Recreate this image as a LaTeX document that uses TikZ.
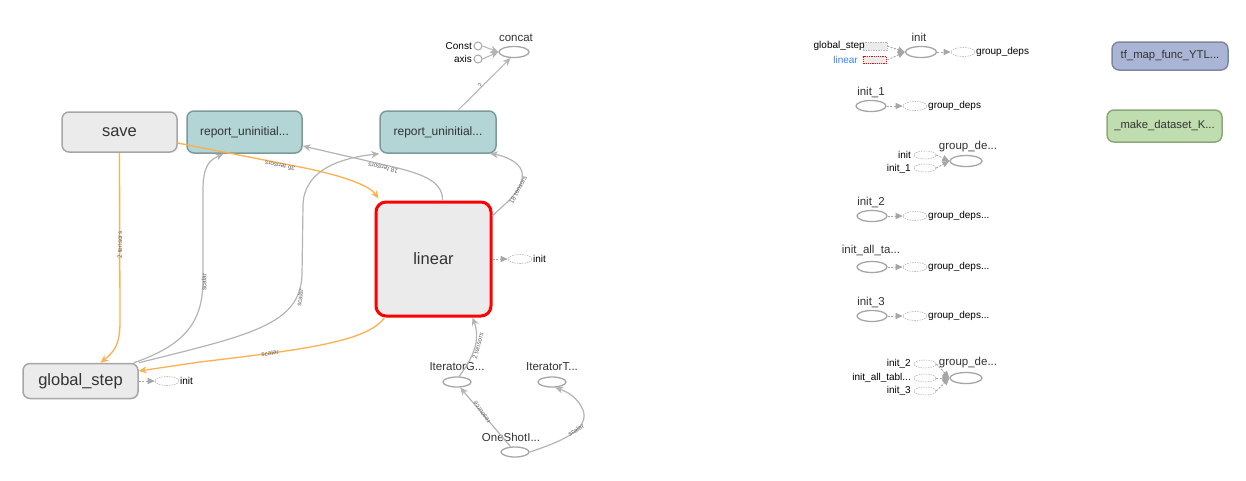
\documentclass[tikz,border=0pt]{standalone}
\usepackage{fontspec}
\setmainfont{Liberation Sans}
\usetikzlibrary{arrows.meta,shapes.geometric}
\definecolor{boxfill}{HTML}{EBEBEB}
\definecolor{boxline}{HTML}{A6A6A6}
\definecolor{tealfill}{HTML}{B3D5D6}
\definecolor{tealline}{HTML}{7D9A9B}
\definecolor{orng}{HTML}{FDB04E}
\definecolor{edgegray}{HTML}{B4B4B4}
\definecolor{blfill}{HTML}{AAB5D6}
\definecolor{blline}{HTML}{7E88A3}
\definecolor{grfill}{HTML}{BFDDAE}
\definecolor{grline}{HTML}{8BA97A}
\definecolor{lblue}{HTML}{3B82F6}
\definecolor{txt}{HTML}{333333}
\tikzset{
  metabox/.style={draw=boxline, fill=boxfill, rounded corners=7pt, line width=1.5pt,
    minimum width=115pt, minimum height=40pt, inner sep=0pt, text=txt,
    font=\fontsize{16.5}{17}\selectfont},
  tealbox/.style={metabox, draw=tealline, fill=tealfill, minimum height=42pt,
    font=\fontsize{12}{12}\selectfont},
  opnode/.style={ellipse, draw=boxline, line width=1.3pt, fill=white,
    minimum width=30pt, minimum height=11pt, inner sep=0pt},
  refop/.style={ellipse, draw=boxline!80, line width=0.6pt, dash pattern=on 1.5pt off 1pt,
    fill=white, minimum width=24pt, minimum height=9pt, inner sep=0pt},
  cnode/.style={circle, draw=boxline, line width=1pt, fill=white, minimum size=8pt, inner sep=0pt},
  lbl/.style={text=txt, inner sep=1pt, font=\fontsize{11.5}{12}\selectfont},
  slbl/.style={text=black, inner sep=1pt, font=\fontsize{10}{10}\selectfont},
  elab/.style={text=black!60, inner sep=0.3pt, font=\fontsize{6.5}{7}\selectfont},
  oedge/.style={draw=orng, line width=1.3pt, -{Stealth[length=8pt,width=7pt]}},
  gedge/.style={draw=edgegray, line width=1.2pt, -{Stealth[length=8pt,width=7pt]}},
  dedge/.style={draw=boxline, line width=0.9pt, dash pattern=on 2pt off 1.5pt,
    -{Triangle[length=7pt,width=6pt]}},
}
\begin{document}
\begin{tikzpicture}[x=1pt,y=-1pt]
\fill[white] (0,0) rectangle (1246,480);
\useasboundingbox (0,0) rectangle (1246,480);

% main nodes
\node[metabox] (save) at (119.5,132) {save};
\node[tealbox] (rep1) at (244.5,132) {report\_uninitial...};
\node[tealbox, minimum width=116pt] (rep2) at (438,132) {report\_uninitial...};
\node[metabox, draw=red, line width=3pt, rounded corners=10pt, minimum height=114pt] (linear) at (433.5,259) {linear};
\node[metabox, minimum height=35pt] (gstep) at (80.5,381) {global\_step};

\node[refop] (ginit) at (167,381) {};
\node[slbl, anchor=west] (ginitl) at (179,381) {init};
\node[refop] (linit) at (520,259) {};
\node[slbl, anchor=west] (linitl) at (532,259) {init};

\node[opnode] (concat) at (514,52) {};
\node[lbl] (concatl) at (516,38) {concat};
\node[cnode] (const) at (478,46) {};
\node[slbl, anchor=east] (constl) at (473,46) {Const};
\node[cnode] (axis) at (478,59) {};
\node[slbl, anchor=east] (axisl) at (473,59) {axis};

\node[opnode, minimum width=28pt, minimum height=10pt] (itg) at (457,382) {};
\node[lbl] (itgl) at (457,367) {IteratorG...};
\node[opnode, minimum width=28pt, minimum height=10pt] (itt) at (552,382) {};
\node[lbl] (ittl) at (552,367) {IteratorT...};
\node[opnode, minimum width=28pt, minimum height=10pt] (osi) at (515,452) {};
\node[lbl] (osil) at (511,437) {OneShotI...};

% main edges
\draw[oedge] (save.south) -- (120,322) .. controls (120,345) and (114,352) .. ([xshift=20pt]gstep.north);
\node[elab, rotate=90] (e1) at (120,245) {2 tensors};

\draw[oedge] ([yshift=-11pt]save.east) -- (300,167) .. controls (345,176) and (370,186) .. ([xshift=4pt,yshift=2pt]linear.north west);
\node[elab, rotate=169] (e2) at (280,166) {36 tensors};

\draw[gedge] ([xshift=-5pt]gstep.north east) .. controls (185,345) and (203,322) .. (203,280) -- (203,190) .. controls (203,165) and (210,160) .. ([xshift=-21pt]rep1.south);
\node[elab, rotate=90] (e3) at (204,282) {scalar};

\draw[gedge] (gstep.north east) .. controls (250,335) and (300,325) .. (302,275) -- (303,205) .. controls (304,170) and (340,158) .. (rep2.south west);
\node[elab, rotate=82] (e4) at (300,298) {scalar};

\draw[oedge] ([xshift=10pt]linear.south west) .. controls (368,342) and (300,350) .. (200,362) -- ([yshift=10pt]gstep.east);
\node[elab, rotate=8] (e5) at (270,353) {scalar};

\draw[gedge] ([xshift=9pt]linear.north) .. controls (443,180) and (420,173) .. (385,165) -- ([yshift=-14pt]rep1.east);
\node[elab, rotate=167] (e6) at (383,168) {18 tensors};

\draw[gedge] ([yshift=43pt]linear.east) .. controls (505,203) and (525,190) .. (522,172) .. controls (519,160) and (500,155) .. ([xshift=52pt]rep2.south);
\node[elab, rotate=62] (e7) at (518,190) {18 tensors};

\draw[gedge, line width=1pt] ([xshift=20pt]rep2.north) -- (concat.240);
\node[elab, rotate=45] (e8) at (480,86) {?};
\draw[gedge, line width=1pt] (const.east) -- (concat.west);
\draw[gedge, line width=1pt] (axis.east) -- (concat.west);

\draw[gedge] (itg.70) .. controls (478,352) and (479,335) .. ([xshift=39pt]linear.south);
\node[elab, rotate=75] (e9) at (478,346) {2 tensors};

\draw[gedge] (osi.130) -- (itg.300);
\node[elab, rotate=124] (e10) at (482,412) {resource};

\draw[gedge] (osi.east) .. controls (560,442) and (590,430) .. (583,410) .. controls (578,398) and (568,392) .. (itt.300);
\node[elab, rotate=32] (e11) at (576,430) {scalar};

\draw[dedge] (gstep.east) -- (ginit.west);
\draw[dedge] (linear.east) -- (linit.west);

% right side
\node[opnode, minimum width=31pt] (init) at (921,52) {};
\node[lbl] (initl) at (919,37) {init};
\node[rectangle, draw=boxline!80, fill=boxfill, line width=0.6pt, dash pattern=on 1.5pt off 1pt, minimum width=24pt, minimum height=8pt, inner sep=0pt] (gsref) at (875,46) {};
\node[slbl, anchor=east] (gsrefl) at (866,46) {global\_step};
\node[rectangle, draw=red, fill=boxfill, line width=1.5pt, dash pattern=on 1.2pt off 1pt, minimum width=23pt, minimum height=7pt, inner sep=0pt] (linref) at (875,60) {};
\node[slbl, anchor=east, text=lblue] (linrefl) at (859,60) {linear};
\draw[dedge] (gsref.east) -- (init.west);
\draw[dedge] (linref.east) -- (init.west);
\node[refop] (gd0) at (963,52) {};
\node[slbl, anchor=west] (gd0l) at (975,52) {group\_deps};
\draw[dedge] (init.east) -- (gd0.west);

\node[opnode] (init1) at (871,106) {};
\node[lbl] (init1l) at (871,92) {init\_1};
\node[refop] (gd1) at (915,106) {};
\node[slbl, anchor=west] (gd1l) at (927,106) {group\_deps};
\draw[dedge] (init1.east) -- (gd1.west);

\node[opnode, minimum width=32pt] (gde1) at (966,161) {};
\node[lbl] (gde1l) at (968,147) {group\_de...};
\node[refop, minimum width=22pt, minimum height=8pt] (iref) at (925,155) {};
\node[slbl, anchor=east] (irefl) at (912,155) {init};
\node[refop, minimum width=22pt, minimum height=8pt] (i1ref) at (925,168) {};
\node[slbl, anchor=east] (i1refl) at (912,169) {init\_1};
\draw[dedge] (iref.east) -- (gde1.west);
\draw[dedge] (i1ref.east) -- (gde1.west);

\node[opnode] (init2) at (872,216) {};
\node[lbl] (init2l) at (871,202) {init\_2};
\node[refop] (gd2) at (915,216) {};
\node[slbl, anchor=west] (gd2l) at (927,216) {group\_deps...};
\draw[dedge] (init2.east) -- (gd2.west);

\node[opnode] (initall) at (872,267) {};
\node[lbl] (initalll) at (871,250) {init\_all\_ta...};
\node[refop] (gd3) at (915,267) {};
\node[slbl, anchor=west] (gd3l) at (927,267) {group\_deps...};
\draw[dedge] (initall.east) -- (gd3.west);

\node[opnode] (init3) at (872,316) {};
\node[lbl] (init3l) at (871,302) {init\_3};
\node[refop] (gd4) at (915,316) {};
\node[slbl, anchor=west] (gd4l) at (927,316) {group\_deps...};
\draw[dedge] (init3.east) -- (gd4.west);

\node[opnode, minimum width=32pt] (gde2) at (966,378) {};
\node[lbl] (gde2l) at (968,363) {group\_de...};
\node[refop, minimum width=22pt, minimum height=8pt] (r2) at (925,364) {};
\node[slbl, anchor=east] (r2l) at (912,364) {init\_2};
\node[refop, minimum width=22pt, minimum height=8pt] (rall) at (925,378) {};
\node[slbl, anchor=east] (ralll) at (912,378) {init\_all\_tabl...};
\node[refop, minimum width=22pt, minimum height=8pt] (r3) at (925,391) {};
\node[slbl, anchor=east] (r3l) at (912,391) {init\_3};
\draw[dedge] (r2.east) -- (gde2.west);
\draw[dedge] (rall.east) -- (gde2.west);
\draw[dedge] (r3.east) -- (gde2.west);

\node[metabox, draw=blline, fill=blfill, minimum width=116pt, minimum height=28pt, font=\fontsize{11.3}{12}\selectfont] (tfmap) at (1170,56) {tf\_map\_func\_YTL...};
\node[metabox, draw=grline, fill=grfill, minimum width=115pt, minimum height=32pt, font=\fontsize{11.3}{12}\selectfont] (mkds) at (1164.5,126) {\_make\_dataset\_K...};
\end{tikzpicture}
\end{document}
